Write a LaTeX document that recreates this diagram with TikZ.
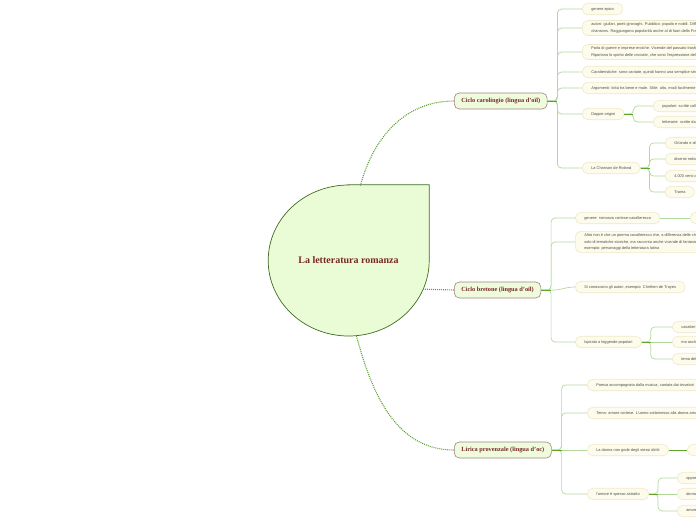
\documentclass[tikz,border=0pt]{standalone}
\usepackage{fontspec}
\setmainfont{Liberation Serif}
\newfontfamily\leaffont{Liberation Sans}
\usepackage{tikz}
\usetikzlibrary{positioning,shapes.geometric,backgrounds}

\definecolor{rootfill}{HTML}{E9FCD6}
\definecolor{rootline}{HTML}{3F6B22}
\definecolor{rootred}{HTML}{7A2727}
\definecolor{topicfill}{HTML}{EEFCDD}
\definecolor{topicline}{HTML}{A4807F}
\definecolor{leaffill}{HTML}{FDFCEC}
\definecolor{leafline}{HTML}{EFE8C6}
\definecolor{leaftext}{HTML}{4D4D4D}
\definecolor{linkgreen}{HTML}{5E9F2E}
\definecolor{stemgreen}{HTML}{5FA329}
\definecolor{twiggreen}{HTML}{B3D89B}

\begin{document}
\begin{tikzpicture}[x=1pt, y=1pt,
  every node/.style={font=\leaffont\fontsize{3.9}{6.3}\selectfont},
  root/.style={ellipse, minimum width=161pt, minimum height=151pt, inner sep=0pt, font=\rmfamily\bfseries\fontsize{10}{12}\selectfont, text=rootred},
  topic/.style={draw=topicline, fill=topicfill, rounded corners=5pt, line width=0.6pt, minimum height=16pt, inner xsep=7pt, anchor=west, font=\rmfamily\bfseries\fontsize{6.3}{7.5}\selectfont, text=rootred},
  leaf/.style={draw=leafline, fill=leaffill, rounded corners=5.5pt, line width=0.6pt, minimum height=11.5pt, inner xsep=9pt, inner ysep=2.5pt, anchor=west, align=left, text=leaftext},
  link/.style={draw=linkgreen, dash pattern=on 1pt off 1pt, line width=1.1pt},
  stem/.style={draw=stemgreen, line width=0.9pt},
  twig/.style={draw=twiggreen, line width=0.7pt, rounded corners=4pt}
]
\useasboundingbox (0,0) rectangle (696,-520);
\clip (0,0) rectangle (696,-520);

% centre
\node[root] (root) at (348.5,-260.5) {La letteratura romanza};
\begin{scope}[on background layer]
\draw[rootline, fill=rootfill, line width=0.7pt] (root.north) -| (root.east)
  arc[start angle=0, end angle=-270, x radius=80.5pt, y radius=75.5pt] -- cycle;
\end{scope}

% Ciclo carolingio
\node[topic] (carolingio) at (454,-101) {Ciclo carolingio (lingua d'oïl)};
\node[leaf] (epico) at (582,-9) {genere epico};
\node[leaf] (autori) at (582,-28) {autori: giullari, poeti girovaghi. Pubblico: popolo e nobili. Diffusione orale delle\\chansons. Raggiungono popolarità anche al di fuori della Francia};
\node[leaf] (guerre) at (582,-52) {Parla di guerre e imprese eroiche. Vicende del passato trasformate in leggenda.\\Riportano lo spirito delle crociate, che sono l'espressione della fede};
\node[leaf] (caratteri) at (582,-72) {Caratteristiche: sono cantate, quindi hanno una semplice struttura};
\node[leaf] (argomenti) at (582,-88) {Argomenti: lotta tra bene e male. Stile: alto, modi facilmente memorizzabili};
\node[leaf] (origini) at (582,-114) {Doppie origini};
\node[leaf] (popolari) at (653,-106) {popolari: scritte collettivamente};
\node[leaf] (letterarie) at (653,-122) {letterarie: scritte da un autore};
\node[leaf] (roland) at (582,-168) {La Chanson de Roland};
\node[leaf] (orlando) at (665,-143) {Orlando e altri paladini};
\node[leaf] (redazioni) at (665,-159) {diverse redazioni};
\node[leaf] (versi) at (665,-176) {4.000 versi circa};
\node[leaf] (trama) at (665,-192) {Trama};

% Ciclo bretone
\node[topic] (bretone) at (454,-290) {Ciclo bretone (lingua d'oïl)};
\node[leaf] (genere) at (575,-218) {genere: romanzo cortese-cavalleresco};
\node[leaf, minimum width=40pt] (cortese) at (690,-218) {};
\node[leaf] (poema) at (575,-242) {Altro non è che un poema cavalleresco che, a differenza delle chansons, non tratta\\solo di tematiche storiche, ma racconta anche vicende di fantasia. Per\\esempio: personaggi della letteratura latina};
\node[leaf] (conosciuti) at (575,-287) {Si conoscono gli autori, esempio: Chrétien de Troyes};
\node[leaf] (leggende) at (575,-342) {Ispirato a leggende popolari};
\node[leaf] (cavalieri) at (672,-327) {cavalieri della Tavola Rotonda};
\node[leaf] (maanche) at (672,-342) {ma anche amore};
\node[leaf] (graal) at (672,-359) {tema del Graal};

% Lirica provenzale
\node[topic] (provenzale) at (454,-450) {Lirica provenzale (lingua d'oc)};
\node[leaf] (musica) at (587,-385) {Poesia accompagnata dalla musica, cantata dai trovatori};
\node[leaf] (amore) at (587,-413) {Tema: amore cortese. L'uomo sottomesso alla donna amata};
\node[leaf] (donna) at (587,-450) {La donna non gode degli stessi diritti};
\node[leaf, minimum width=40pt] (diritti) at (687,-450) {};
\node[leaf] (astratto) at (587,-494) {l'amore è spesso astratto};
\node[leaf] (opposto) at (677,-478) {opposto al matrimonio};
\node[leaf] (irraggiungibile) at (677,-494) {donna irraggiungibile};
\node[leaf] (segreto) at (677,-511) {amore segreto};

% dotted links from the centre
\draw[link] (root.81) to[out=75,in=180] (carolingio.west);
\draw[link] (root.-21) -- (bretone.west);
\draw[link] (root.-84) to[out=-75,in=180] (provenzale.west);

% junctions
\coordinate (cj) at ([xshift=10pt]carolingio.east);
\coordinate (oj) at ([xshift=9pt]origini.east);
\coordinate (rj) at ([xshift=9pt]roland.east);
\coordinate (bj) at ([xshift=10pt]bretone.east);
\coordinate (lj) at ([xshift=9pt]leggende.east);
\coordinate (pj) at ([xshift=10pt]provenzale.east);
\coordinate (aj) at ([xshift=9pt]astratto.east);

% twigs
\draw[twig] (carolingio.east) -- (cj) |- (epico.west);
\draw[twig] (carolingio.east) -- (cj) |- (autori.west);
\draw[twig] (carolingio.east) -- (cj) |- (guerre.west);
\draw[twig] (carolingio.east) -- (cj) |- (caratteri.west);
\draw[twig] (carolingio.east) -- (cj) |- (argomenti.west);
\draw[twig] (carolingio.east) -- (cj) |- (origini.west);
\draw[twig] (carolingio.east) -- (cj) |- (roland.west);
\draw[twig] (origini.east) -- (oj) |- (popolari.west);
\draw[twig] (origini.east) -- (oj) |- (letterarie.west);
\draw[twig] (roland.east) -- (rj) |- (orlando.west);
\draw[twig] (roland.east) -- (rj) |- (redazioni.west);
\draw[twig] (roland.east) -- (rj) |- (versi.west);
\draw[twig] (roland.east) -- (rj) |- (trama.west);

\draw[twig] (bretone.east) -- (bj) |- (genere.west);
\draw[twig] (bretone.east) -- (bj) |- (poema.west);
\draw[twig] (bretone.east) -- (bj) to[out=0,in=180] (conosciuti.west);
\draw[twig] (bretone.east) -- (bj) |- (leggende.west);
\draw[twig] (genere.east) -- (cortese.west);
\draw[twig] (leggende.east) -- (lj) |- (cavalieri.west);
\draw[twig] (leggende.east) -- (maanche.west);
\draw[twig] (leggende.east) -- (lj) |- (graal.west);

\draw[twig] (provenzale.east) -- (pj) |- (musica.west);
\draw[twig] (provenzale.east) -- (pj) |- (amore.west);
\draw[twig] (provenzale.east) -- (donna.west);
\draw[twig] (provenzale.east) -- (pj) |- (astratto.west);
\draw[stem] (donna.east) -- (diritti.west);
\draw[twig] (astratto.east) -- (aj) |- (opposto.west);
\draw[twig] (astratto.east) -- (irraggiungibile.west);
\draw[twig] (astratto.east) -- (aj) |- (segreto.west);

% stems
\draw[stem] (carolingio.east) -- (cj);
\draw[stem] (origini.east) -- (oj);
\draw[stem] (roland.east) -- (rj);
\draw[stem] (bretone.east) -- (bj);
\draw[stem] (leggende.east) -- (lj);
\draw[stem] (provenzale.east) -- (pj);
\draw[stem] (astratto.east) -- (aj);
\end{tikzpicture}
\end{document}
